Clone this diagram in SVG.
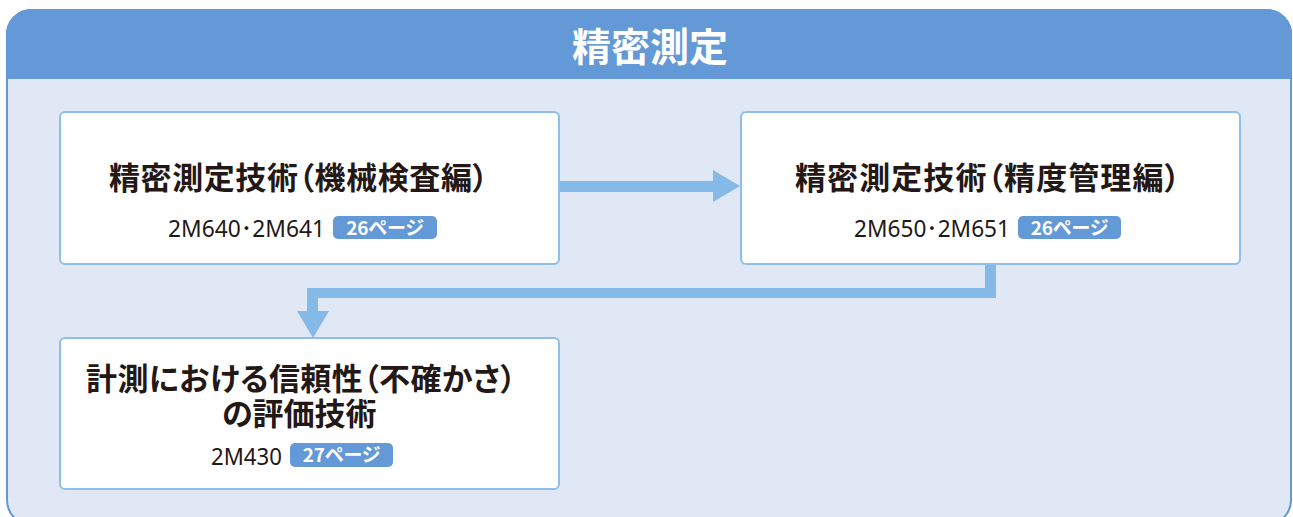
<svg xmlns="http://www.w3.org/2000/svg" width="1293" height="517" viewBox="0 0 1293 517">
<style>
.box{fill:#ffffff;stroke:#8dbfea;stroke-width:2}
.ttl{font-family:"Noto Sans CJK JP","Noto Sans",sans-serif;font-weight:bold;font-size:31px;fill:#231815;font-feature-settings:"palt"}
.code{font-family:"Noto Sans","Noto Sans CJK JP",sans-serif;font-size:23px;fill:#231815}
.badge{fill:#6399d6}
.btxt{font-family:"Noto Sans CJK JP","Noto Sans",sans-serif;font-weight:bold;font-size:19px;fill:#ffffff;font-feature-settings:"palt"}
.conn{fill:#85bae8}
</style>
<rect x="7" y="10" width="1284" height="515" rx="25" fill="#e0e7f5" stroke="#6399d6" stroke-width="2"/>
<path d="M6,79 V35 A25,25 0 0 1 31,9 H1267 A25,25 0 0 1 1292,35 V79 Z" fill="#6399d6"/>
<text x="650" y="61" text-anchor="middle" font-family="'Noto Sans CJK JP','Noto Sans',sans-serif" font-weight="bold" font-size="39" fill="#ffffff">精密測定</text>
<g id="connectors">
<rect class="conn" x="559" y="181" width="156" height="11"/>
<polygon class="conn" points="713,170 740,186 713,202"/>
<path class="conn" d="M985,264 H996 V298 H318 V312 H307 V288 H985 Z"/>
<polygon class="conn" points="297,311 329,311 313,338"/>
</g>
<g id="node1">
<rect class="box" x="60" y="112" width="499" height="152" rx="5"/>
<text class="ttl" x="109" y="189" textLength="379" lengthAdjust="spacing">精密測定技術（機械検査編）</text>
<text class="code" x="168" y="237" textLength="157" lengthAdjust="spacingAndGlyphs">2M640･2M641</text>
<rect class="badge" x="333" y="216" width="104" height="23" rx="5"/>
<text class="btxt" x="385" y="235" text-anchor="middle">26ページ</text>
</g>
<g id="node2">
<rect class="box" x="741" y="112" width="499" height="152" rx="5"/>
<text class="ttl" x="795" y="189" textLength="385" lengthAdjust="spacing">精密測定技術（精度管理編）</text>
<text class="code" x="854" y="237" textLength="156" lengthAdjust="spacingAndGlyphs">2M650･2M651</text>
<rect class="badge" x="1018" y="216" width="103" height="23" rx="5"/>
<text class="btxt" x="1069.5" y="235" text-anchor="middle">26ページ</text>
</g>
<g id="node3">
<rect class="box" x="60" y="338" width="499" height="151" rx="5"/>
<text class="ttl"><tspan x="86" y="390" textLength="430" lengthAdjust="spacing">計測における信頼性（不確かさ）</tspan><tspan x="222" y="425">の評価技術</tspan></text>
<text class="code" x="211" y="465" textLength="71" lengthAdjust="spacingAndGlyphs">2M430</text>
<rect class="badge" x="290" y="443" width="103" height="24" rx="5"/>
<text class="btxt" x="341.5" y="462" text-anchor="middle">27ページ</text>
</g>
</svg>
